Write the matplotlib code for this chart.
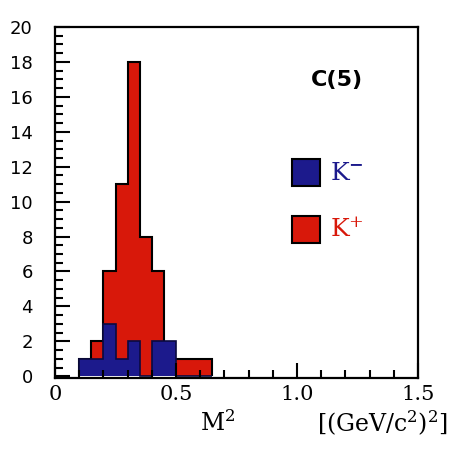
import matplotlib
matplotlib.use("Agg")
import matplotlib.pyplot as plt
from matplotlib.patches import Rectangle
from matplotlib.ticker import MultipleLocator

plt.rcParams["mathtext.fontset"] = "dejavuserif"

# bin edges in M^2 [(GeV/c^2)^2]
bin_edges = [0.10, 0.15, 0.20, 0.25, 0.30, 0.35, 0.40, 0.45, 0.50, 0.55, 0.60, 0.65]
k_plus_counts = [1, 2, 6, 11, 18, 8, 6, 1, 1, 1, 1]
k_minus_counts = [1, 1, 3, 1, 2, 0, 2, 2, 0, 0, 0]

red = "#d8180a"
blue = "#1c1a8c"

fig = plt.figure(figsize=(4.52, 4.61), dpi=100)
ax = fig.add_axes([0.1217, 0.18, 0.803, 0.7614])

ax.stairs(k_plus_counts, bin_edges, fill=True, color=red)
ax.stairs(k_plus_counts, bin_edges, color="black", linewidth=1.5)
ax.stairs(k_minus_counts, bin_edges, fill=True, color=blue)
ax.stairs(k_minus_counts, bin_edges, color="#0a0a40", linewidth=1.2)

ax.set_xlim(0, 1.5)
ax.set_ylim(-0.1, 20)

ax.xaxis.set_minor_locator(MultipleLocator(0.1))
ax.yaxis.set_minor_locator(MultipleLocator(0.5))
ax.set_xticks([0, 0.5, 1.0, 1.5])
ax.set_xticklabels(["0", "0.5", "1.0", "1.5"], family="DejaVu Serif", fontsize=15)
ax.set_yticks(range(0, 21, 2))
ax.set_yticklabels([str(v) for v in range(0, 21, 2)], family="DejaVu Sans", fontsize=13)

ax.tick_params(which="both", direction="in", top=False, right=False, width=1.5)
ax.tick_params(which="major", length=11)
ax.tick_params(which="minor", length=6)
ax.tick_params(axis="y", pad=16)
ax.tick_params(axis="x", pad=5)

for s in ax.spines.values():
    s.set_linewidth(1.6)

ax.text(0.777, 0.849, "C(5)", transform=ax.transAxes, ha="center", va="center",
        fontsize=16, fontweight="bold", family="DejaVu Sans")

ax.add_patch(Rectangle((0.653, 0.547), 0.077, 0.077, transform=ax.transAxes,
                       facecolor=blue, edgecolor="black", linewidth=1.5))
ax.add_patch(Rectangle((0.653, 0.385), 0.077, 0.077, transform=ax.transAxes,
                       facecolor=red, edgecolor="black", linewidth=1.5))
ax.text(0.758, 0.584, r"K$^{\mathbf{-}}$", transform=ax.transAxes, ha="left", va="center",
        fontsize=18, color=blue, family="DejaVu Serif")
ax.text(0.758, 0.422, r"K$^{+}$", transform=ax.transAxes, ha="left", va="center",
        fontsize=18, color=red, family="DejaVu Serif")

fig.text(200 / 452, 1 - 423 / 461, r"M$^2$", ha="left", va="center",
         fontsize=17, family="DejaVu Serif")
fig.text(448 / 452, 1 - 423 / 461, r"[(GeV/c$^2$)$^2$]", ha="right", va="center",
         fontsize=17, family="DejaVu Serif")

fig.savefig("out.png", dpi=100)
